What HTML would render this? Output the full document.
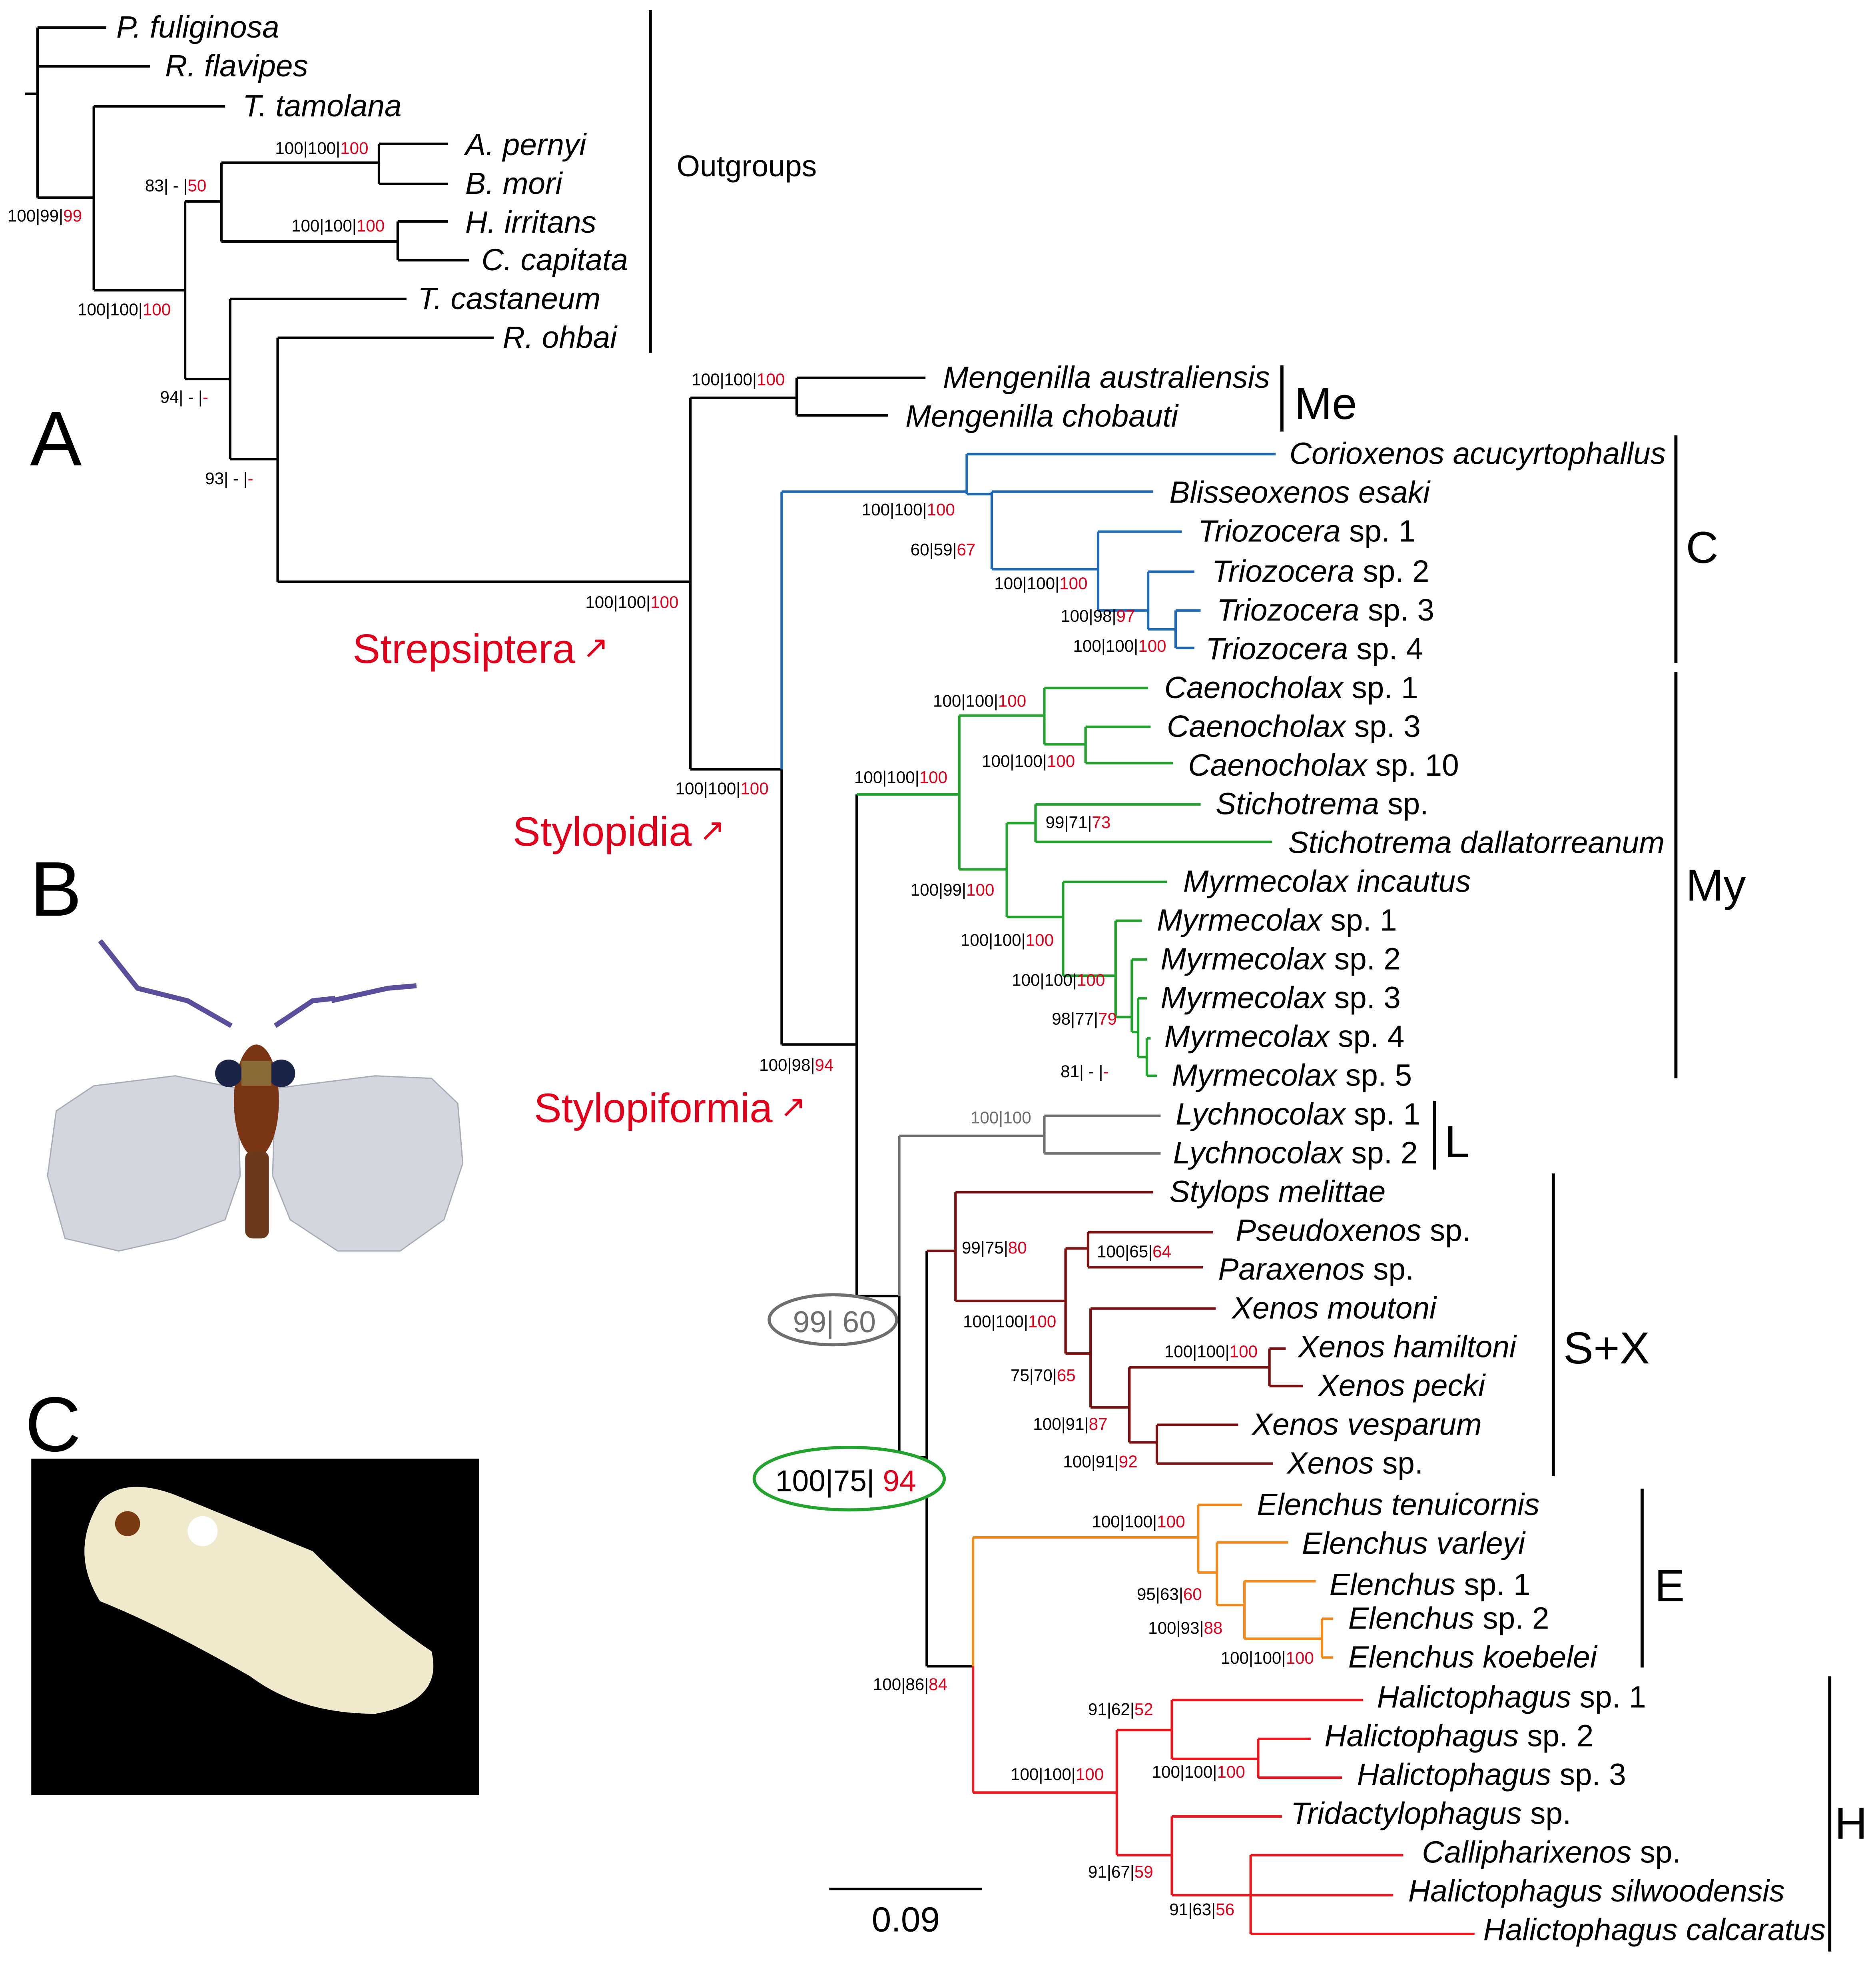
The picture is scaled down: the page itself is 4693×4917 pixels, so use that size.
<!DOCTYPE html>
<html><head><meta charset="utf-8"><style>
html,body{margin:0;padding:0;background:#fff}
svg{display:block}
.t{font-family:"Liberation Sans",sans-serif;font-style:italic;font-size:24.5px;fill:#000}
.s{font-family:"Liberation Sans",sans-serif;font-size:13.5px;fill:#000}
.r{fill:#e0001b}
.b{font-family:"Liberation Sans",sans-serif;font-size:36px;fill:#000}
.lab{font-family:"Liberation Sans",sans-serif;font-size:33px;fill:#e0001b}
</style></head><body>
<svg width="4693" height="4917" viewBox="0 0 1500 1571.6" xmlns="http://www.w3.org/2000/svg">
<rect width="1500" height="1572" fill="#fff"/>
<g stroke="#000" stroke-width="2" fill="none">
<path d="M20 75H30M30 22V158M30 22H85M30 53H120M30 158H75M75 85V232M75 85H180M75 232H148M148 161V303M148 161H177M177 130V193M177 130H303M303 115V147M303 115H358M303 147H358M177 193H318M318 177V208M318 177H358M318 208H375M148 303H184M184 239V367M184 239H325M184 367H222M222 270V465M222 270H395M222 465H552M552 318V615M552 318H637M637 302V332M637 302H740M637 332H710M552 615H625M625 615V835M625 835H685M685 635V1036M685 1036H719"/>
<path stroke="#1f6ab7" d="M625 393V615M625 393H773M773 363V395M773 363H1020M773 395H793M793 393V455M793 393H922M793 455H878M878 425V488M878 425H945M878 488H918M918 457V503M918 457H955M918 503H940M940 488V518M940 488H960M940 518H955"/>
<path stroke="#22a32d" d="M685 635H767M767 572V695M767 572H835M835 550V595M835 550H918M835 595H868M868 581V610M868 581H920M868 610H938M767 695H805M805 658V733M805 658H828M828 643V673M828 643H960M828 673H1017M805 733H850M850 705V780M850 705H933M850 780H892M892 736V813M892 736H913M892 813H905M905 767V825M905 767H917M905 825H910M910 798V845M910 798H917M910 845H917M917 830V860M917 830H920M917 860H925"/>
<path stroke="#6e6e6e" d="M719 1036V908M719 908H835M835 892V922M835 892H928M835 922H928"/>
<path d="M719 1036V1165M719 1165H741M741 1000V1332"/>
<path stroke="#7a1010" d="M741 1000H764M764 953V1040M764 953H922M764 1040H852M852 998V1082M852 998H870M870 985V1013M870 985H970M870 1013H962M852 1082H872M872 1046V1125M872 1046H972M872 1125H903M903 1093V1153M903 1093H1015M1015 1078V1108M1015 1078H1028M1015 1108H1042M903 1153H925M925 1139V1170M925 1139H990M925 1170H1018"/>
<path d="M741 1332H778"/>
<path stroke="#f08a1c" d="M778 1332V1229M778 1229H958M958 1203V1257M958 1203H993M958 1257H973M973 1233V1283M973 1233H1030M973 1283H995M995 1264V1310M995 1264H1052M995 1310H1057M1057 1294V1325M1057 1294H1066M1057 1325H1066"/>
<path stroke="#e8191e" d="M778 1332V1433M778 1433H893M893 1383V1483M893 1383H937M937 1359V1406M937 1359H1090M937 1406H1006M1006 1390V1421M1006 1390H1048M1006 1421H1073M893 1483H937M937 1452V1515M937 1452H1025M937 1515H1114M1000 1483V1546M1000 1483H1122M1000 1546H1179"/>
</g>
<g class="t">
<text x="93" y="30">P. fuliginosa</text><text x="132" y="61">R. flavipes</text><text x="194" y="93">T. tamolana</text>
<text x="372" y="124">A. pernyi</text><text x="372" y="155">B. mori</text><text x="372" y="186">H. irritans</text><text x="385" y="216">C. capitata</text>
<text x="334" y="247">T. castaneum</text><text x="402" y="278">R. ohbai</text>
<text x="754" y="310">Mengenilla australiensis</text><text x="724" y="341">Mengenilla chobauti</text>
<text x="1031" y="371">Corioxenos acucyrtophallus</text><text x="935" y="402">Blisseoxenos esaki</text>
<text x="958" y="433"><tspan>Triozocera</tspan><tspan font-style="normal"> sp. 1</tspan></text>
<text x="969" y="465"><tspan>Triozocera</tspan><tspan font-style="normal"> sp. 2</tspan></text>
<text x="973" y="496"><tspan>Triozocera</tspan><tspan font-style="normal"> sp. 3</tspan></text>
<text x="964" y="527"><tspan>Triozocera</tspan><tspan font-style="normal"> sp. 4</tspan></text>
<text x="931" y="558"><tspan>Caenocholax</tspan><tspan font-style="normal"> sp. 1</tspan></text>
<text x="933" y="589"><tspan>Caenocholax</tspan><tspan font-style="normal"> sp. 3</tspan></text>
<text x="950" y="620"><tspan>Caenocholax</tspan><tspan font-style="normal"> sp. 10</tspan></text>
<text x="972" y="651"><tspan>Stichotrema</tspan><tspan font-style="normal"> sp.</tspan></text>
<text x="1030" y="682">Stichotrema dallatorreanum</text>
<text x="946" y="713">Myrmecolax incautus</text>
<text x="925" y="744"><tspan>Myrmecolax</tspan><tspan font-style="normal"> sp. 1</tspan></text>
<text x="928" y="775"><tspan>Myrmecolax</tspan><tspan font-style="normal"> sp. 2</tspan></text>
<text x="928" y="806"><tspan>Myrmecolax</tspan><tspan font-style="normal"> sp. 3</tspan></text>
<text x="931" y="837"><tspan>Myrmecolax</tspan><tspan font-style="normal"> sp. 4</tspan></text>
<text x="937" y="868"><tspan>Myrmecolax</tspan><tspan font-style="normal"> sp. 5</tspan></text>
<text x="940" y="899"><tspan>Lychnocolax</tspan><tspan font-style="normal"> sp. 1</tspan></text>
<text x="938" y="930"><tspan>Lychnocolax</tspan><tspan font-style="normal"> sp. 2</tspan></text>
<text x="935" y="961">Stylops melittae</text>
<text x="988" y="992"><tspan>Pseudoxenos</tspan><tspan font-style="normal"> sp.</tspan></text>
<text x="974" y="1023"><tspan>Paraxenos</tspan><tspan font-style="normal"> sp.</tspan></text>
<text x="985" y="1054">Xenos moutoni</text>
<text x="1038" y="1085">Xenos hamiltoni</text>
<text x="1054" y="1116">Xenos pecki</text>
<text x="1001" y="1147">Xenos vesparum</text>
<text x="1029" y="1178"><tspan>Xenos</tspan><tspan font-style="normal"> sp.</tspan></text>
<text x="1005" y="1211">Elenchus tenuicornis</text>
<text x="1041" y="1242">Elenchus varleyi</text>
<text x="1063" y="1275"><tspan>Elenchus</tspan><tspan font-style="normal"> sp. 1</tspan></text>
<text x="1078" y="1302"><tspan>Elenchus</tspan><tspan font-style="normal"> sp. 2</tspan></text>
<text x="1078" y="1333">Elenchus koebelei</text>
<text x="1101" y="1365"><tspan>Halictophagus</tspan><tspan font-style="normal"> sp. 1</tspan></text>
<text x="1059" y="1396"><tspan>Halictophagus</tspan><tspan font-style="normal"> sp. 2</tspan></text>
<text x="1085" y="1427"><tspan>Halictophagus</tspan><tspan font-style="normal"> sp. 3</tspan></text>
<text x="1032" y="1458"><tspan>Tridactylophagus</tspan><tspan font-style="normal"> sp.</tspan></text>
<text x="1137" y="1489"><tspan>Callipharixenos</tspan><tspan font-style="normal"> sp.</tspan></text>
<text x="1126" y="1520">Halictophagus silwoodensis</text>
<text x="1186" y="1551">Halictophagus calcaratus</text>
</g>
<g class="s">
<text x="6" y="177">100|99|<tspan class="r">99</tspan></text>
<text x="220" y="123">100|100|<tspan class="r">100</tspan></text>
<text x="116" y="153">83| - |<tspan class="r">50</tspan></text>
<text x="233" y="185">100|100|<tspan class="r">100</tspan></text>
<text x="62" y="252">100|100|<tspan class="r">100</tspan></text>
<text x="128" y="322">94| - |<tspan class="r">-</tspan></text>
<text x="164" y="387">93| - |<tspan class="r">-</tspan></text>
<text x="553" y="308">100|100|<tspan class="r">100</tspan></text>
<text x="468" y="486">100|100|<tspan class="r">100</tspan></text>
<text x="689" y="412">100|100|<tspan class="r">100</tspan></text>
<text x="728" y="444">60|59|<tspan class="r">67</tspan></text>
<text x="795" y="471">100|100|<tspan class="r">100</tspan></text>
<text x="848" y="497">100|98|<tspan class="r">97</tspan></text>
<text x="858" y="521">100|100|<tspan class="r">100</tspan></text>
<text x="540" y="635">100|100|<tspan class="r">100</tspan></text>
<text x="746" y="565">100|100|<tspan class="r">100</tspan></text>
<text x="785" y="613">100|100|<tspan class="r">100</tspan></text>
<text x="683" y="626">100|100|<tspan class="r">100</tspan></text>
<text x="836" y="662">99|71|<tspan class="r">73</tspan></text>
<text x="728" y="716">100|99|<tspan class="r">100</tspan></text>
<text x="768" y="756">100|100|<tspan class="r">100</tspan></text>
<text x="809" y="788">100|100|<tspan class="r">100</tspan></text>
<text x="841" y="819">98|77|<tspan class="r">79</tspan></text>
<text x="848" y="861">81| - |<tspan class="r">-</tspan></text>
<text x="607" y="856">100|98|<tspan class="r">94</tspan></text>
<text x="776" y="898" fill="#6e6e6e">100|100</text>
<text x="769" y="1002">99|75|<tspan class="r">80</tspan></text>
<text x="877" y="1005">100|65|<tspan class="r">64</tspan></text>
<text x="770" y="1061">100|100|<tspan class="r">100</tspan></text>
<text x="931" y="1085">100|100|<tspan class="r">100</tspan></text>
<text x="808" y="1104">75|70|<tspan class="r">65</tspan></text>
<text x="826" y="1143">100|91|<tspan class="r">87</tspan></text>
<text x="850" y="1173">100|91|<tspan class="r">92</tspan></text>
<text x="873" y="1221">100|100|<tspan class="r">100</tspan></text>
<text x="909" y="1279">95|63|<tspan class="r">60</tspan></text>
<text x="918" y="1306">100|93|<tspan class="r">88</tspan></text>
<text x="976" y="1330">100|100|<tspan class="r">100</tspan></text>
<text x="698" y="1351">100|86|<tspan class="r">84</tspan></text>
<text x="870" y="1371">91|62|<tspan class="r">52</tspan></text>
<text x="921" y="1421">100|100|<tspan class="r">100</tspan></text>
<text x="808" y="1423">100|100|<tspan class="r">100</tspan></text>
<text x="870" y="1501">91|67|<tspan class="r">59</tspan></text>
<text x="935" y="1531">91|63|<tspan class="r">56</tspan></text>
</g>
<g>
<ellipse cx="666" cy="1055" rx="51" ry="20" fill="#fff" stroke="#6e6e6e" stroke-width="2.5"/>
<text x="634" y="1065" font-family="Liberation Sans,sans-serif" font-size="24" fill="#6e6e6e">99| 60</text>
<ellipse cx="679" cy="1182" rx="76" ry="25" fill="#fff" stroke="#22a32d" stroke-width="2.5"/>
<text x="620" y="1192" font-family="Liberation Sans,sans-serif" font-size="24">100|75| <tspan class="r">94</tspan></text>
</g>
<g stroke="#000" stroke-width="2.5">
<line x1="520" y1="8" x2="520" y2="282"/><line x1="1025" y1="292" x2="1025" y2="345"/>
<line x1="1340" y1="348" x2="1340" y2="530"/><line x1="1340" y1="537" x2="1340" y2="862"/>
<line x1="1147" y1="880" x2="1147" y2="935"/><line x1="1242" y1="938" x2="1242" y2="1180"/>
<line x1="1313" y1="1190" x2="1313" y2="1333"/><line x1="1463" y1="1340" x2="1463" y2="1560"/>
</g>
<g class="b">
<text x="541" y="141" font-size="24">Outgroups</text>
<text x="1035" y="335">Me</text><text x="1348" y="450">C</text><text x="1348" y="720">My</text>
<text x="1155" y="925">L</text><text x="1250" y="1090">S+X</text><text x="1323" y="1280">E</text><text x="1467" y="1470">H</text>
</g>
<g class="lab">
<text x="282" y="530">Strepsiptera<tspan font-size="25" dx="6" dy="-4">↗</tspan></text>
<text x="410" y="676">Stylopidia<tspan font-size="25" dx="6" dy="-4">↗</tspan></text>
<text x="427" y="897">Stylopiformia<tspan font-size="25" dx="6" dy="-4">↗</tspan></text>
</g>
<g font-family="Liberation Sans,sans-serif" font-size="62">
<text x="24" y="372">A</text><text x="24" y="732">B</text><text x="20" y="1160">C</text>
</g>
<g>
<path d="M190 870L140 860L75 868L45 888L38 940L52 990L95 1000L140 990L180 975L192 940Z" fill="#d3d6de" stroke="#a8adb7"/>
<path d="M220 870L300 860L345 862L366 882L370 930L355 975L320 1000L270 1000L232 975L218 940Z" fill="#d3d6de" stroke="#a8adb7"/>
<path d="M80 752L110 790L150 800L185 820M265 800L310 790L333 788M220 820L250 800L268 798" stroke="#5d4e9c" stroke-width="4" fill="none"/>
<ellipse cx="205" cy="880" rx="18" ry="45" fill="#7a3514"/>
<rect x="196" y="920" width="19" height="70" rx="6" fill="#6b3a1c"/>
<circle cx="183" cy="858" r="11" fill="#1a2448"/><circle cx="225" cy="858" r="11" fill="#1a2448"/>
<rect x="193" y="848" width="24" height="20" fill="#8a6a36"/>
</g>
<g>
<rect x="25" y="1166" width="358" height="269" fill="#000"/>
<path d="M80 1200Q100 1180 140 1195L250 1240Q300 1290 345 1320Q355 1360 300 1370Q240 1370 200 1340Q130 1300 80 1280Q55 1240 80 1200Z" fill="#f1e9cc"/>
<circle cx="102" cy="1218" r="10" fill="#7a3a12"/><circle cx="162" cy="1224" r="12" fill="#fff"/>
</g>
<g>
<line x1="663" y1="1510" x2="785" y2="1510" stroke="#000" stroke-width="2"/>
<text x="697" y="1544" font-family="Liberation Sans,sans-serif" font-size="28">0.09</text>
</g>
</svg>
</body></html>
